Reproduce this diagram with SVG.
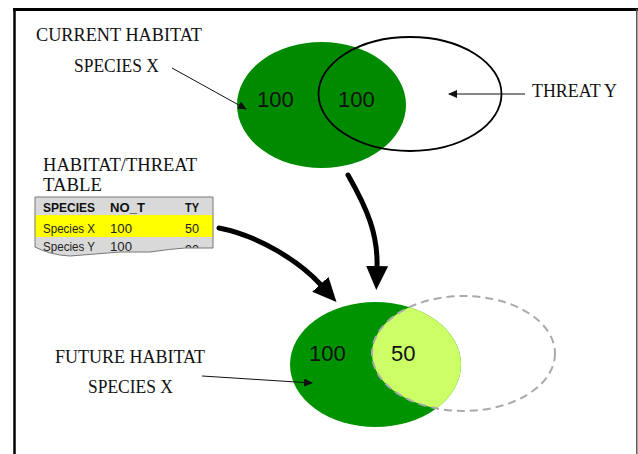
<svg xmlns="http://www.w3.org/2000/svg" width="638" height="454" viewBox="0 0 638 454">
<style>
.lbl{font-family:"Liberation Serif","Times New Roman",serif;font-size:18px;fill:#111}
.num{font-family:"Liberation Sans",Arial,sans-serif;font-size:22px;fill:#111}
.th{font-family:"Liberation Sans",Arial,sans-serif;font-size:12px;font-weight:bold;fill:#111}
.td{font-family:"Liberation Sans",Arial,sans-serif;font-size:12.5px;fill:#222}
.thin{stroke:#111;stroke-width:1;fill:none}
.big{stroke:#000;stroke-width:5;fill:none;stroke-linecap:round}
</style>
<defs>
<marker id="small" markerUnits="userSpaceOnUse" markerWidth="9" markerHeight="8" refX="8" refY="4" orient="auto">
<path d="M0,0 L9,4 L0,8 z" fill="#111"/>
</marker>
<marker id="bigHead" markerUnits="userSpaceOnUse" markerWidth="24" markerHeight="22" refX="1" refY="11" orient="auto">
<path d="M0,0 L24,11 L0,22 z" fill="#000"/>
</marker>
<clipPath id="tear">
<path d="M35,197 L213,197 L213,248 L185,248 Q170,249 150,252 L120,252 L70,256 Q50,255 35,247 z"/>
</clipPath>
</defs>
<rect width="638" height="454" fill="#fff"/>
<g id="frame">
<line x1="14.5" y1="9.5" x2="14.5" y2="454" stroke="#000" stroke-width="2.5"/>
<line x1="13" y1="9.5" x2="638" y2="9.5" stroke="#000" stroke-width="3"/>
<line x1="636.8" y1="9" x2="636.8" y2="454" stroke="#555" stroke-width="1.5"/>
</g>
<g id="current-habitat">
<ellipse cx="321.5" cy="105" rx="84.5" ry="63" fill="#008a00"/>
<text class="num" x="257" y="107">100</text>
<text class="num" x="338" y="107">100</text>
</g>
<g id="threat-y">
<ellipse cx="410" cy="94" rx="91.5" ry="57" fill="none" stroke="#000" stroke-width="1.8"/>
</g>
<g id="future-habitat">
<ellipse cx="375.5" cy="364.5" rx="85.5" ry="62.5" fill="#009300"/>
<clipPath id="fh"><ellipse cx="375.5" cy="364.5" rx="85.5" ry="62.5"/></clipPath>
<ellipse cx="463.5" cy="353.5" rx="91.5" ry="57.5" fill="#ccff66" clip-path="url(#fh)"/>
<ellipse cx="463.5" cy="353.5" rx="91.5" ry="57.5" fill="none" stroke="#aaaaaa" stroke-width="2" stroke-dasharray="8,5"/>
<text class="num" x="309" y="361">100</text>
<text class="num" x="391" y="361">50</text>
</g>
<g id="labels">
<text class="lbl" x="36" y="41" textLength="166" lengthAdjust="spacingAndGlyphs">CURRENT HABITAT</text>
<text class="lbl" x="74" y="72" textLength="85" lengthAdjust="spacingAndGlyphs">SPECIES X</text>
<text class="lbl" x="532" y="97" textLength="85" lengthAdjust="spacingAndGlyphs">THREAT Y</text>
<text class="lbl" x="43" y="171" textLength="154" lengthAdjust="spacingAndGlyphs">HABITAT/THREAT</text>
<text class="lbl" x="43" y="191" textLength="59" lengthAdjust="spacingAndGlyphs">TABLE</text>
<text class="lbl" x="55" y="363" textLength="150" lengthAdjust="spacingAndGlyphs">FUTURE HABITAT</text>
<text class="lbl" x="88" y="393" textLength="85" lengthAdjust="spacingAndGlyphs">SPECIES X</text>
</g>
<g id="table">
<g clip-path="url(#tear)">
<rect x="35" y="197" width="178" height="60" fill="#d9d9d9"/>
<rect x="35" y="215" width="178" height="22" fill="#ffff00"/>
<text class="th" x="43" y="212" textLength="52" lengthAdjust="spacingAndGlyphs">SPECIES</text>
<text class="th" x="110" y="212" textLength="35" lengthAdjust="spacingAndGlyphs">NO_T</text>
<text class="th" x="185" y="212" textLength="14" lengthAdjust="spacingAndGlyphs">TY</text>
<text class="td" x="43" y="233" textLength="52" lengthAdjust="spacingAndGlyphs">Species X</text>
<text class="td" x="110" y="233" textLength="22" lengthAdjust="spacingAndGlyphs">100</text>
<text class="td" x="185" y="233" textLength="14" lengthAdjust="spacingAndGlyphs">50</text>
<text class="td" x="43" y="251" textLength="52" lengthAdjust="spacingAndGlyphs">Species Y</text>
<text class="td" x="110" y="251" textLength="22" lengthAdjust="spacingAndGlyphs">100</text>
<text class="td" x="185" y="254" textLength="14" lengthAdjust="spacingAndGlyphs">90</text>
</g>
<path d="M35,247 L35,197 L213,197 L213,248 L185,248 Q170,249 150,252 L120,252 L70,256 Q50,255 35,247" fill="none" stroke="#777" stroke-width="1"/>
</g>
<g id="connectors">
<path class="thin" d="M172,68 L246,109" marker-end="url(#small)"/>
<path class="thin" d="M525,94 L449,94" marker-end="url(#small)"/>
<path class="thin" d="M202,376 L312,383" marker-end="url(#small)"/>
<path class="big" d="M219,228 C260,236 300,262 321,285" marker-end="url(#bigHead)"/>
<path class="big" d="M348,175 C368,210 378,235 377,267" marker-end="url(#bigHead)"/>
</g>
</svg>
